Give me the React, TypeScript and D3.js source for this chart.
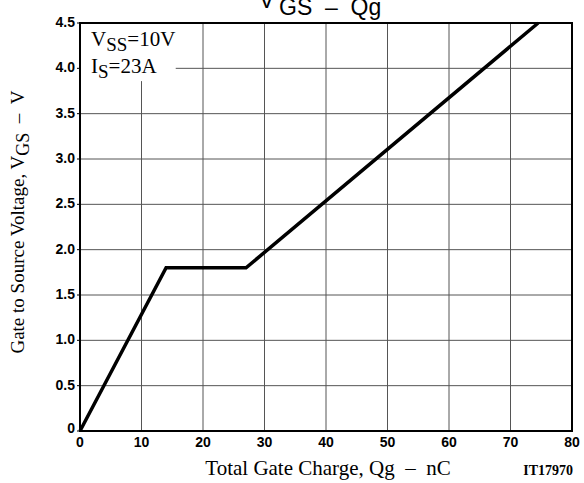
import React from 'react';
import { scaleLinear, line } from 'd3';

const width = 584;
const height = 483;
const margin = { left: 80, right: 12, top: 23, bottom: 52 };
const innerW = width - margin.left - margin.right;
const innerH = height - margin.top - margin.bottom;

// curve
const chargeNC = [0, 14, 27, 74.5];
const gateVolt = [0, 1.8, 1.8, 4.5];

const xTicks = [0, 10, 20, 30, 40, 50, 60, 70, 80];
const yTicks = [0, 0.5, 1, 1.5, 2, 2.5, 3, 3.5, 4, 4.5];
const yTickLabels = ['0', '0.5', '1.0', '1.5', '2.0', '2.5', '3.0', '3.5', '4.0', '4.5'];

const xScale = scaleLinear().domain([0, 80]).range([0, innerW]);
const yScale = scaleLinear().domain([0, 4.5]).range([innerH, 0]);

const curve = line<number>()
  .x((d) => xScale(d))
  .y((_, i) => yScale(gateVolt[i]));

const serif = '"Liberation Serif", "Times New Roman", serif';
const sans = '"Liberation Sans", Arial, sans-serif';
const gap = '\u00a0\u00a0\u2013\u00a0\u00a0';

const App = () => {
  // white patch behind the conditions text
  const boxW = xScale(15.4);
  const boxH = yScale(3.87);
  return (
    <svg width={width} height={height} style={{ position: 'absolute', left: 0, top: 0 }}>
      <rect width={width} height={height} fill="#fff" />
      <text x={259} y={8} fontFamily={sans} fontSize={23} fill="#000">
        V
      </text>
      <text x={279} y={15} fontFamily={sans} fontSize={23} fill="#000">
        GS{gap}Qg
      </text>
      <g transform={`translate(${margin.left},${margin.top})`}>
        {xTicks.slice(1, -1).map((t) => (
          <line key={'gx' + t} x1={xScale(t)} x2={xScale(t)} y1={0} y2={innerH} stroke="#555" strokeWidth={1} />
        ))}
        {yTicks.slice(1, -1).map((t) => (
          <line key={'gy' + t} x1={0} x2={innerW} y1={yScale(t)} y2={yScale(t)} stroke="#555" strokeWidth={1} />
        ))}
        <rect x={1} y={1} width={boxW} height={boxH} fill="#fff" />
        {yTicks.map((t, i) => (
          <g key={'yt' + t}>
            <line x1={-3} x2={0} y1={yScale(t)} y2={yScale(t)} stroke="#000" strokeWidth={1} />
            <text
              x={-5}
              y={yScale(t) - (t === 0 ? 3 : 1)}
              textAnchor="end"
              dominantBaseline="central"
              fontFamily={sans}
              fontWeight="bold"
              fontSize={14}
            >
              {yTickLabels[i]}
            </text>
          </g>
        ))}
        {xTicks.map((t) => (
          <text
            key={'xt' + t}
            x={xScale(t)}
            y={innerH + 16}
            textAnchor="middle"
            fontFamily={sans}
            fontWeight="bold"
            fontSize={14}
          >
            {t}
          </text>
        ))}
        <rect x={0} y={0} width={innerW} height={innerH} fill="none" stroke="#000" strokeWidth={2} />
        <path d={curve(chargeNC) as string} fill="none" stroke="#000" strokeWidth={3.5} strokeLinejoin="miter" />
        <text x={11} y={23} fontFamily={serif} fontSize={21}>
          V<tspan dy={5} fontSize={19}>SS</tspan>
          <tspan dy={-5}>=10V</tspan>
        </text>
        <text x={11} y={50} fontFamily={serif} fontSize={21}>
          I<tspan dy={5} fontSize={19}>S</tspan>
          <tspan dy={-5}>=23A</tspan>
        </text>
      </g>
      <text x={328} y={475} textAnchor="middle" fontFamily={serif} fontSize={21}>
        Total Gate Charge, Qg{gap}nC
      </text>
      <text x={573} y={475} textAnchor="end" fontFamily={serif} fontWeight="bold" fontSize={14}>
        IT17970
      </text>
      <text
        transform="translate(24,222) rotate(-90)"
        textAnchor="middle"
        fontFamily={serif}
        fontSize={19}
      >
        Gate to Source Voltage, V<tspan dy={5} fontSize={18}>GS</tspan>
        <tspan dy={-5}>{gap}V</tspan>
      </text>
    </svg>
  );
};

export default App;
